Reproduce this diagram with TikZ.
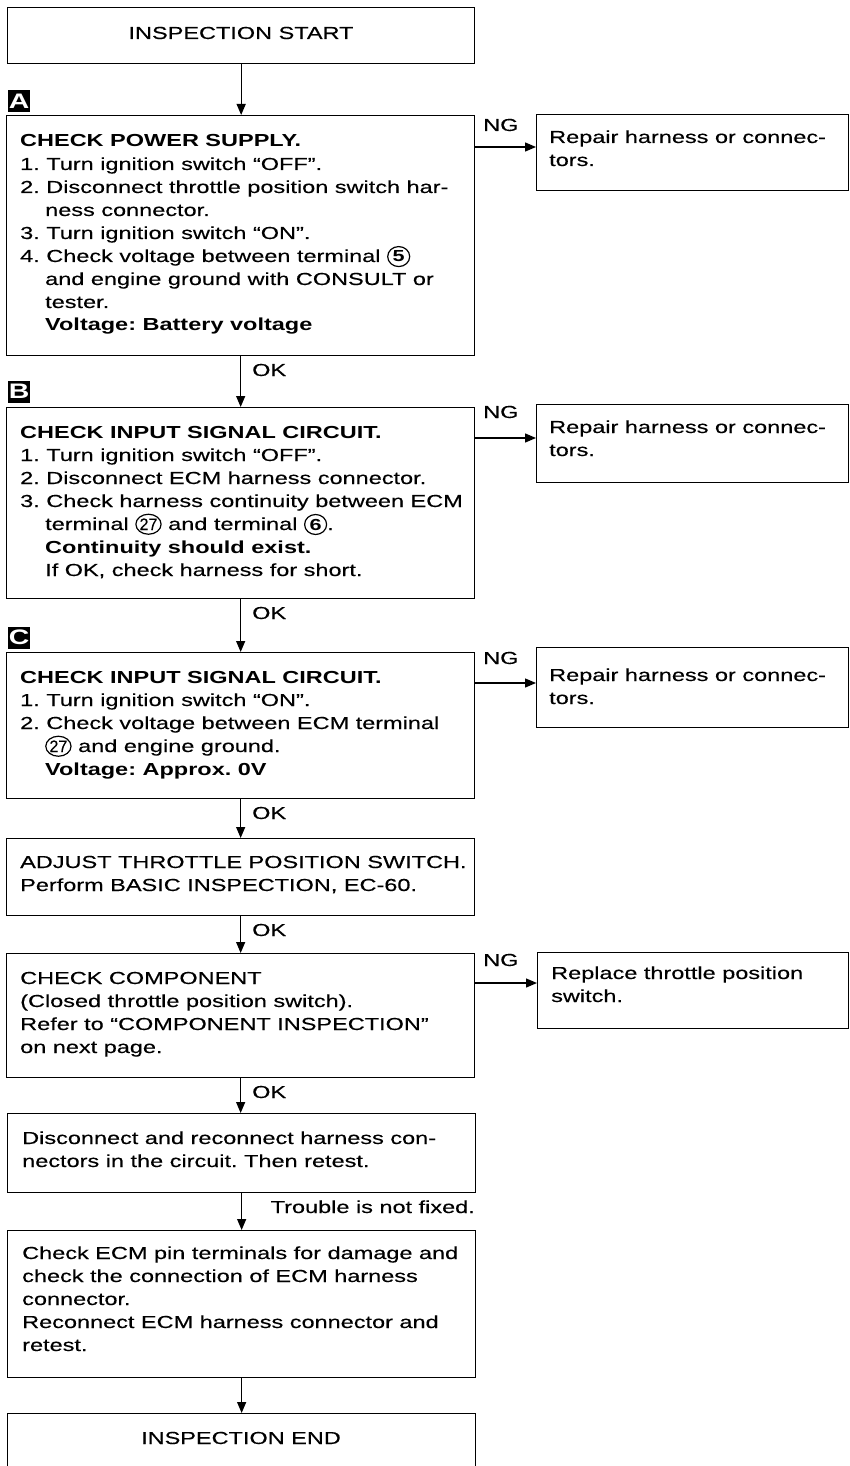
\documentclass[tikz,border=0pt]{standalone}
\usepackage{fontspec}
\usepackage{graphicx}
\setmainfont{Liberation Sans}[FakeStretch=1.35, UprightFeatures={FakeBold=0.3}]
\usetikzlibrary{arrows.meta,shapes.geometric}
\frenchspacing
\newcommand{\msz}{\fontsize{17.4}{23}\selectfont}
\newcommand{\ind}{\hspace*{25pt}}
\newcommand{\cnum}[1]{\tikz[baseline=(cn.base)]\node[ellipse,draw,line width=1.2pt,inner sep=0pt,minimum width=22pt,minimum height=20pt,font=\bfseries\fontsize{16}{16}\selectfont] (cn) {#1};}
\newcommand{\cnumsm}[1]{\tikz[baseline=(cn.base)]\node[ellipse,draw,line width=1.2pt,inner sep=0pt,minimum width=22pt,minimum height=20pt,font=\fontsize{16.5}{16.5}\selectfont] (cn) {\scalebox{0.72}[1]{#1}};}
\tikzset{
  box/.style={draw, line width=1.3pt, inner sep=0pt, anchor=north west},
  txt/.style={anchor=base west, inner sep=0pt, font=\msz},
  lbl/.style={fill=black, text=white, minimum size=22pt, inner sep=0pt, font=\bfseries\fontsize{21}{21}\selectfont},
  arr/.style={line width=1.3pt, -{Triangle[length=11pt,width=9pt]}},
}
\begin{document}
\begin{tikzpicture}[x=1pt,y=-1pt]
\fill[white] (0,0) rectangle (849,1466);
\useasboundingbox (0,0) rectangle (849,1466);

% START
\node[box, minimum width=467, minimum height=56] (S) at (7,7) {};
\node[font=\msz, inner sep=0pt] (St) at (241,33) {INSPECTION START};

% A
\node[lbl] (LA) at (19,101) {A};
\node[box, minimum width=468, minimum height=240] (A) at (6,115) {};
\node[txt] (At) at (20,147) {\parbox[t]{452pt}{\raggedright
\textbf{CHECK POWER SUPPLY.}\\
1. Turn ignition switch “OFF”.\\
2. Disconnect throttle position switch har-\\
\ind ness connector.\\
3. Turn ignition switch “ON”.\\
4. Check voltage between terminal \cnum{5}\\
\ind and engine ground with CONSULT or\\
\ind tester.\\
\ind\textbf{Voltage: Battery voltage}}};
\node[box, minimum width=312, minimum height=76] (RA) at (536,114) {};
\node[txt] (RAt) at (549,143) {\parbox[t]{298pt}{\raggedright Repair harness or connec-\\tors.}};
\node[txt] (NGA) at (483,131) {NG};
\draw[arr] (A.north east) ++(0,32) coordinate (ngA) -- (ngA -| RA.west);
\draw[arr] (S.south) -- (S.south |- A.north);

% B
\node[txt] (OK1) at (252,376) {OK};
\node[lbl] (LB) at (19,391.5) {B};
\node[box, minimum width=468, minimum height=191] (B) at (6,407) {};
\node[txt] (Bt) at (20,438) {\parbox[t]{452pt}{\raggedright
\textbf{CHECK INPUT SIGNAL CIRCUIT.}\\
1. Turn ignition switch “OFF”.\\
2. Disconnect ECM harness connector.\\
3. Check harness continuity between ECM\\
\ind terminal \cnumsm{27} and terminal \cnum{6}.\\
\ind\textbf{Continuity should exist.}\\
\ind If OK, check harness for short.}};
\node[box, minimum width=312, minimum height=78] (RB) at (536,404) {};
\node[txt] (RBt) at (549,433) {\parbox[t]{298pt}{\raggedright Repair harness or connec-\\tors.}};
\node[txt] (NGB) at (483,418) {NG};
\draw[arr] (B.north east) ++(0,31) coordinate (ngB) -- (ngB -| RB.west);
\draw[arr] (A.south) -- (B.north);

% C
\node[txt] (OK2) at (252,619) {OK};
\node[lbl] (LC) at (19,637.5) {C};
\node[box, minimum width=468, minimum height=146] (C) at (6,652) {};
\node[txt] (Ct) at (20,683) {\parbox[t]{452pt}{\raggedright
\textbf{CHECK INPUT SIGNAL CIRCUIT.}\\
1. Turn ignition switch “ON”.\\
2. Check voltage between ECM terminal\\
\ind\cnumsm{27} and engine ground.\\
\ind\textbf{Voltage: Approx. 0V}}};
\node[box, minimum width=312, minimum height=80] (RC) at (536,647) {};
\node[txt] (RCt) at (549,681) {\parbox[t]{298pt}{\raggedright Repair harness or connec-\\tors.}};
\node[txt] (NGC) at (483,664) {NG};
\draw[arr] (C.north east) ++(0,31) coordinate (ngC) -- (ngC -| RC.west);
\draw[arr] (B.south) -- (C.north);

% D
\node[txt] (OK3) at (252,819) {OK};
\node[box, minimum width=468, minimum height=77] (D) at (6,838) {};
\node[txt] (Dt) at (20,868) {\parbox[t]{452pt}{\raggedright
ADJUST THROTTLE POSITION SWITCH.\\
Perform BASIC INSPECTION, EC-60.}};
\draw[arr] (C.south) -- (D.north);

% E
\node[txt] (OK4) at (252,936) {OK};
\node[box, minimum width=468, minimum height=124] (E) at (6,953) {};
\node[txt] (Et) at (20,984) {\parbox[t]{452pt}{\raggedright
CHECK COMPONENT\\
(Closed throttle position switch).\\
Refer to “COMPONENT INSPECTION”\\
on next page.}};
\node[box, minimum width=311, minimum height=76] (RE) at (537,952) {};
\node[txt] (REt) at (551,979) {\parbox[t]{296pt}{\raggedright Replace throttle position\\switch.}};
\node[txt] (NGE) at (483,966) {NG};
\draw[arr] (E.north east) ++(0,30) coordinate (ngE) -- (ngE -| RE.west);
\draw[arr] (D.south) -- (E.north);

% F
\node[txt] (OK5) at (252,1098) {OK};
\node[box, minimum width=468, minimum height=79] (F) at (7,1113) {};
\node[txt] (Ft) at (22,1144) {\parbox[t]{452pt}{\raggedright
Disconnect and reconnect harness con-\\
nectors in the circuit. Then retest.}};
\draw[arr] (E.south) -- (E.south |- F.north);

% G
\node[txt, anchor=base east] (TR) at (475,1213) {Trouble is not fixed.};
\node[box, minimum width=468, minimum height=147] (G) at (7,1230) {};
\node[txt] (Gt) at (22,1259) {\parbox[t]{452pt}{\raggedright
Check ECM pin terminals for damage and\\
check the connection of ECM harness\\
connector.\\
Reconnect ECM harness connector and\\
retest.}};
\draw[arr] (F.south) -- (G.north);

% END
\node[box, minimum width=468, minimum height=80] (End) at (7,1413) {};
\node[font=\msz, inner sep=0pt] (Endt) at (241,1438) {INSPECTION END};
\draw[arr] (G.south) -- (End.north);
\end{tikzpicture}
\end{document}
